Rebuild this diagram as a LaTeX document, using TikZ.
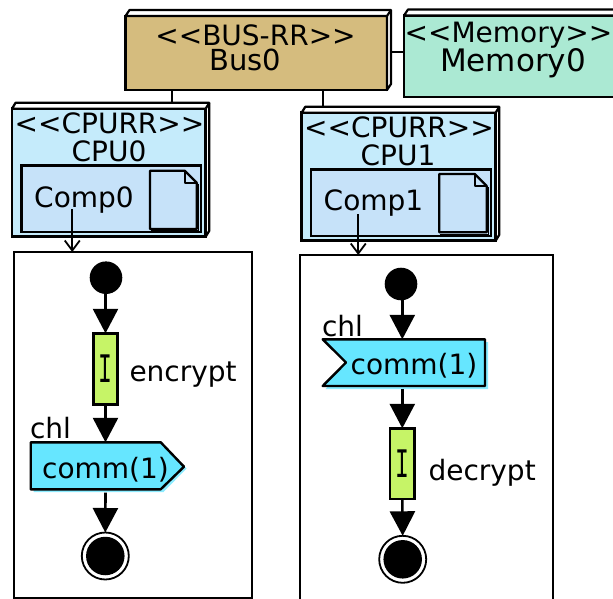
\documentclass[tikz,border=0pt]{standalone}
\usepackage{fontspec}
\usepackage{graphicx}
\setmainfont{DejaVu Sans}
\newfontfamily\iconfont{Liberation Mono}
\usetikzlibrary{arrows.meta,calc}
\definecolor{busfill}{HTML}{D5BC7E}
\definecolor{memfill}{HTML}{ABE9D3}
\definecolor{cpufill}{HTML}{C5EBFB}
\definecolor{compfill}{HTML}{C6E2F9}
\definecolor{actfill}{HTML}{C6F467}
\definecolor{sigfill}{HTML}{66E6FF}
\tikzset{
  x=1pt,y=-1pt,
  every node/.style={inner sep=0pt,outer sep=0pt},
  boxs/.style={draw=black,line width=2.6pt,rectangle},
  sidefill/.style={draw=black,line width=2.2pt,fill=white,line join=round},
  txt/.style={anchor=base,font=\fontsize{28}{28}\selectfont},
  txtw/.style={anchor=base west,font=\fontsize{28}{28}\selectfont},
  bigtxt/.style={anchor=base,font=\fontsize{31}{31}\selectfont},
  bustxt/.style={anchor=base,font=\fontsize{29}{29}\selectfont},
  icontxt/.style={font=\iconfont\fontsize{42}{42}\selectfont},
  actbox/.style={boxs,fill=actfill,minimum width=24.4pt},
  wire/.style={draw=black,line width=2.2pt},
  flow/.style={draw=black,line width=2.6pt,-{Triangle[length=24.5pt,width=25pt,sep=0pt]}},
  deploy/.style={draw=black,line width=1.8pt,-{Straight Barb[length=10pt,width=15pt,line width=1.8pt]}},
  startdot/.style={circle,fill=black,minimum size=32.6pt},
  endring/.style={circle,draw=black,line width=1.8pt,fill=white,minimum size=47pt},
  enddot/.style={circle,fill=black,minimum size=38.5pt},
  frame/.style={draw=black,line width=2.2pt,fill=white,rectangle},
  sigshape/.style={draw=black,line width=2.4pt,fill=sigfill,line join=round},
  sigshadow/.style={fill=sigfill!75!white},
  doc/.style={draw=black,line width=2.2pt,fill=compfill,line join=round}
}
\newcommand{\threed}[3]{% node, dx, dy
  \draw[sidefill] (#1.north west) -- ++(#2,-#3) -- ($(#1.north east)+(#2,-#3)$) -- ($(#1.south east)+(#2,-#3)$) -- (#1.south east) -- (#1.north east) -- cycle;
  \draw[sidefill] (#1.north east) -- ++(#2,-#3);
}
\newcommand{\docicon}[4]{% x1 y1 x2 y2
  \draw[doc] (#1,#2) -- (#3-12,#2) -- (#3,#2+12) -- (#3,#4) -- (#1,#4) -- cycle;
  \draw[doc,fill=none] (#3-12,#2) -- (#3-12,#2+12) -- (#3,#2+12);
  \draw[draw=black,line width=1pt] (#3+1.8,#2+13) -- (#3+1.8,#4+1.8) -- (#1+1,#4+1.8);
}
\newcommand{\iconI}{\scalebox{0.55}[1]{I}}
\begin{document}
\begin{tikzpicture}
\useasboundingbox (0,0) rectangle (613,599);
% activity frames
\node[frame,minimum width=237.4pt,minimum height=346.5pt] (fr0) at (133,425.25) {};
\node[frame,minimum width=253.3pt,minimum height=360pt] (fr1) at (426.65,435) {};
% structure boxes
\node[boxs,fill=busfill,minimum width=261.5pt,minimum height=74pt] (bus) at (256.25,53) {};
\threed{bus}{4}{6}
\node[boxs,fill=memfill,minimum width=240pt,minimum height=81.5pt] (mem) at (524,56.25) {};
\threed{mem}{4}{6}
\node[boxs,fill=cpufill,minimum width=193.7pt,minimum height=128pt] (cpu0) at (108.85,172.7) {};
\threed{cpu0}{3.6}{6}
\node[boxs,fill=cpufill,minimum width=194pt,minimum height=128pt] (cpu1) at (398.7,176.7) {};
\threed{cpu1}{3.6}{6}
\node[boxs,fill=compfill,minimum width=179.7pt,minimum height=66.3pt] (comp0) at (111.15,198.85) {};
\node[boxs,fill=compfill,minimum width=180pt,minimum height=66.7pt] (comp1) at (401,202.65) {};
\docicon{150}{170.7}{196.7}{229}
\docicon{439.3}{174}{486.7}{232.3}
% texts in boxes
\node[txt] (t1) at (255.5,46) {<{}<BUS-RR>{}>};
\node[bustxt] (t2) at (245.5,71) {Bus0};
\node[txt] (t3) at (508.5,42.7) {<{}<Memory>{}>};
\node[bigtxt] (t4) at (513,71.5) {Memory0};
\node[txt] (t5) at (109.5,133.7) {<{}<CPURR>{}>};
\node[txt] (t6) at (109,161.5) {CPU0};
\node[txt] (t7) at (399,137.5) {<{}<CPURR>{}>};
\node[txt] (t8) at (398,165.5) {CPU1};
\node[txt] (t9) at (84,207) {Comp0};
\node[txt] (t10) at (373.5,210.5) {Comp1};
% bus connectors
\coordinate (c0top) at (172,103);
\coordinate (c1top) at (323,106.5);
\coordinate (busside) at (391,52);
\draw[wire] (bus.south -| c0top) -- (c0top);
\draw[wire] (bus.south -| c1top) -- (c1top);
\draw[wire] (busside) -- (mem.west |- busside);
% left activity
\node[startdot] (st0) at (106,277.7) {};
\node[actbox,minimum height=71.4pt] (act0) at (105.5,369) {};
\node[icontxt] (i0) at (105.5,369) {\iconI};
\node[txtw] (enc) at (129.5,381) {encrypt};
\node[txtw] (chl0) at (30,438.5) {chl};
\fill[sigshadow] (33.5,444.5) -- (163.5,444.5) -- (186.5,468.5) -- (163.5,492) -- (33.5,492) -- cycle;
\draw[sigshape] (30.7,442.3) -- (160.7,442.3) -- (184,466.7) -- (160.7,489.3) -- (30.7,489.3) -- cycle;
\node[txt] (sig0) at (105.5,478.5) {comm(1)};
\node[endring] (en0) at (105.3,556) {};
\node[enddot] (end0) at (105.3,556) {};
\coordinate (s0top) at (105.5,442.3);
\coordinate (s0bot) at (105.5,492.7);
\draw[flow] (act0.north |- st0.south) -- (act0.north);
\draw[flow] (act0.south) -- (s0top);
\draw[flow] (s0bot) -- (en0.north);
% right activity
\node[startdot] (st1) at (401,284) {};
\node[txtw] (chl1) at (322,336.5) {chl};
\fill[sigshadow] (325.5,342) -- (488,342) -- (488,389) -- (325.5,389) -- (349,365) -- cycle;
\draw[sigshape] (322.7,339.3) -- (485,339.3) -- (485,386) -- (322.7,386) -- (346,362.5) -- cycle;
\node[txt] (sig1) at (414,374.5) {comm(1)};
\node[actbox,minimum height=70.7pt] (act1) at (402.3,463.65) {};
\node[icontxt] (i1) at (402.3,464) {\iconI};
\node[txtw] (dec) at (428.5,480) {decrypt};
\node[endring] (en1) at (402.7,559.3) {};
\node[enddot] (end1) at (402.7,559.3) {};
\coordinate (s1top) at (402.3,339.3);
\coordinate (s1bot) at (402.3,389);
\draw[flow] (s1top |- st1.south) -- (s1top);
\draw[flow] (s1bot) -- (act1.north);
\draw[flow] (act1.south) -- (en1.north);
% deployment arrows
\coordinate (d0) at (72.3,209);
\coordinate (d1) at (358.3,214);
\draw[deploy] (d0) -- (d0 |- fr0.north);
\draw[deploy] (d1) -- (d1 |- fr1.north);
\end{tikzpicture}
\end{document}
